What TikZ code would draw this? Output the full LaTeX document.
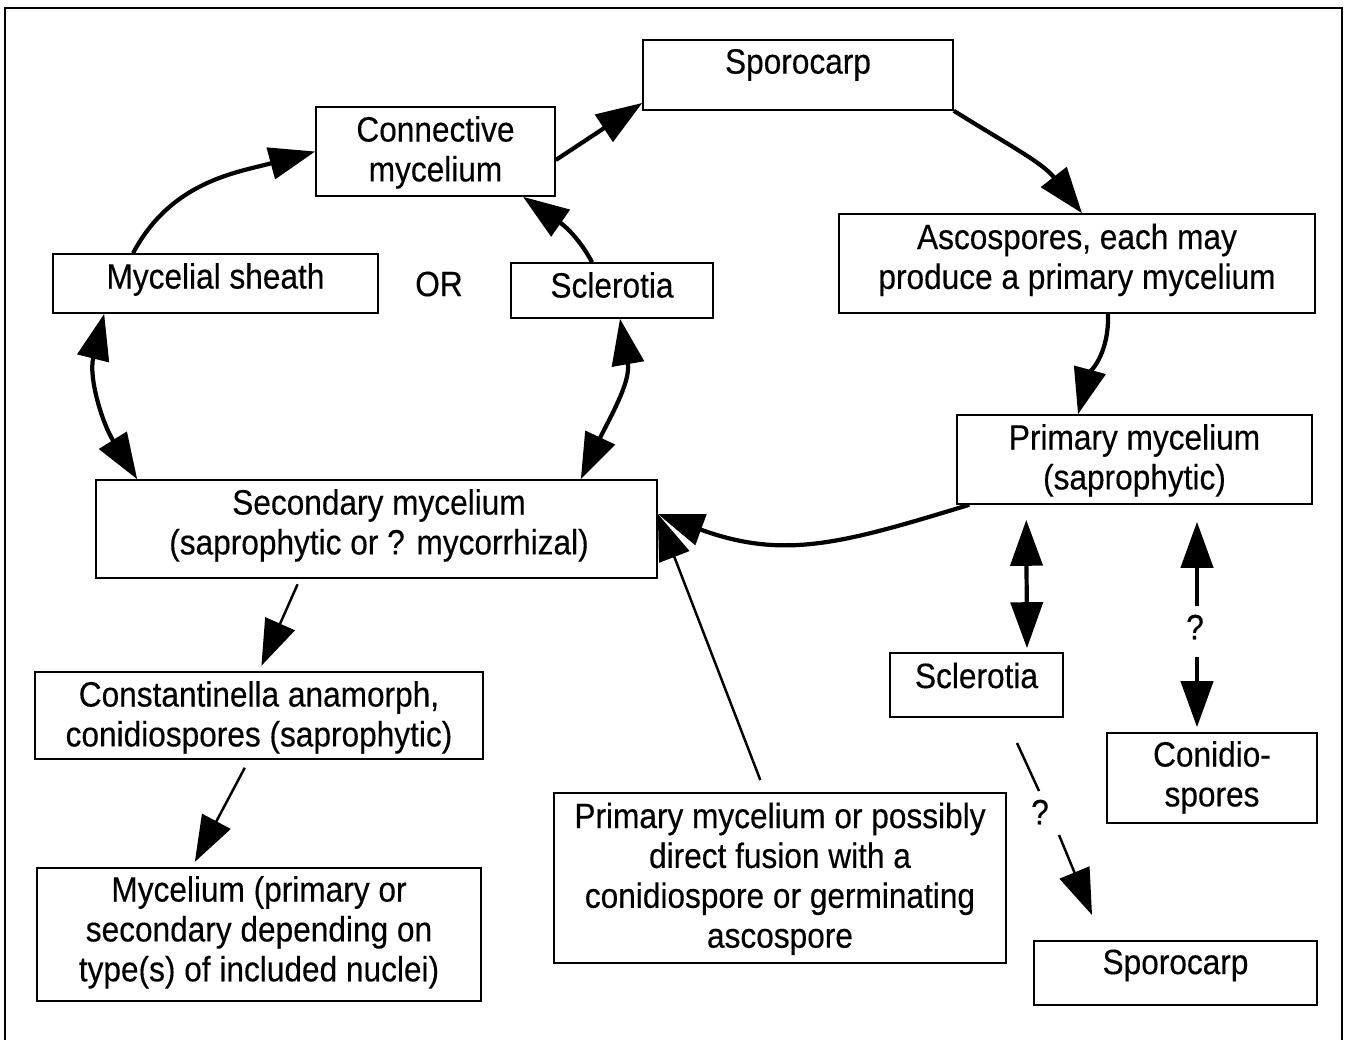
\documentclass[tikz,border=0pt]{standalone}
\usepackage{fontspec}
\setmainfont{Liberation Sans}[FakeStretch=0.9,FakeBold=0.3]
\usetikzlibrary{arrows.meta,fit}
\begin{document}
\begin{tikzpicture}[x=0.02cm,y=0.02cm,
  box/.style={draw,line width=0.9pt,inner sep=0pt},
  txt/.style={align=center,inner sep=0pt,anchor=north,font=\fontsize{20}{22.7}\selectfont},
  thk/.style={line width=2.4pt},
  thn/.style={line width=1.4pt},
  ar/.style={-{Triangle[length=0.92cm,width=0.64cm]}},
  dar/.style={{Triangle[length=0.92cm,width=0.64cm]}-{Triangle[length=0.92cm,width=0.64cm]}}]
\useasboundingbox (0,0) rectangle (1345,-1040);
% frame
\draw[line width=1.2pt] (5,-1040) -- (5,-8) -- (1342,-8) -- (1342,-1040);

% boxes
\node[box,fit={(643,-40) (953,-110)}] (spoA) {};
\node[box,fit={(316,-107) (555,-196)}] (con) {};
\node[box,fit={(53,-254) (378,-313)}] (sheath) {};
\node[box,fit={(511,-263) (713,-318)}] (sclA) {};
\node[box,fit={(839,-214) (1315,-313)}] (asc) {};
\node[box,fit={(957,-415) (1312,-504)}] (pri) {};
\node[box,fit={(96,-480) (657,-578)}] (sec) {};
\node[box,fit={(35,-672) (483,-759)}] (cst) {};
\node[box,fit={(37,-868) (481,-1001)}] (myc) {};
\node[box,fit={(554,-793) (1006,-963)}] (fus) {};
\node[box,fit={(890,-653) (1063,-717)}] (sclB) {};
\node[box,fit={(1107,-733) (1317,-823)}] (cnd) {};
\node[box,fit={(1034,-941) (1317,-1005)}] (spoB) {};

% texts
\node[txt] (spoAt) at ([yshift=-0.19cm]spoA.north) {Sporocarp};
\node[txt] (cont) at ([yshift=-0.19cm]con.north) {Connective\\mycelium};
\node[txt] (sheatht) at ([yshift=-0.19cm]sheath.north) {Mycelial sheath};
\node[txt] (sclAt) at ([yshift=-0.19cm]sclA.north) {Sclerotia};
\node[txt] (asct) at ([yshift=-0.2cm]asc.north) {Ascospores, each may\\produce a primary mycelium};
\node[txt] (prit) at ([yshift=-0.19cm]pri.north) {Primary mycelium\\(saprophytic)};
\node[txt] (sect) at ([xshift=0.05cm,yshift=-0.19cm]sec.north) {Secondary mycelium\\(saprophytic or ? mycorrhizal)};
\node[txt] (cstt) at ([yshift=-0.19cm]cst.north) {Constantinella anamorph,\\conidiospores (saprophytic)};
\node[txt] (myct) at ([yshift=-0.17cm]myc.north) {Mycelium (primary or\\secondary depending on\\type(s) of included nuclei)};
\node[txt] (fust) at ([yshift=-0.2cm]fus.north) {Primary mycelium or possibly\\direct fusion with a\\conidiospore or germinating\\ascospore};
\node[txt] (sclBt) at ([yshift=-0.2cm]sclB.north) {Sclerotia};
\node[txt] (cndt) at ([yshift=-0.17cm]cnd.north) {Conidio-\\spores};
\node[txt] (spoBt) at ([yshift=-0.18cm]spoB.north) {Sporocarp};
\node[txt,anchor=center] (or) at (439,-284) {OR};
\node[txt,anchor=center] (q1) at (1195,-627) {?};
\node[txt,anchor=center] (q2) at (1040,-812) {?};

% main cycle
\draw[thk,ar] ([xshift=-1.65cm]sheath.north) to[out=62,in=195] (con.west);
\draw[thk,ar] ([yshift=-0.17cm]con.east) -- ([yshift=-0.56cm]spoA.west);
\draw[thk,ar] (spoA.south east) to[out=-32,in=128] ([xshift=0.1cm]asc.north);
\draw[thk,ar] ([xshift=0.62cm]asc.south) to[out=-88,in=75] ([xshift=-1.13cm]pri.north);
\draw[thk,ar] ([xshift=0.26cm]pri.south west) to[out=197,in=-20,looseness=1.1] ([yshift=0.3cm]sec.east);
\draw[thk,ar] ([xshift=-0.4cm]sclA.north) to[out=118,in=-35] ([xshift=1.75cm]con.south);
\draw[thk,dar] ([xshift=1.04cm]sheath.south west) to[out=-104,in=122] ([xshift=0.84cm]sec.north west);
\draw[thk,dar] ([xshift=0.16cm]sclA.south) to[out=-80,in=65] ([xshift=-1.54cm]sec.north east);

% straight arrows
\draw[thn,ar,shorten <=0.12cm,shorten >=0.12cm] ([xshift=-1.53cm]sec.south) -- (cst.north);
\draw[thn,ar,shorten <=0.18cm,shorten >=0.12cm] ([xshift=-0.2cm]cst.south) -- ([xshift=-1.34cm]myc.north);
\draw[thn,ar,shorten <=0.26cm] ([xshift=-0.3cm]fus.north) -- ([yshift=0.3cm]sec.east);
\draw[thk,dar,shorten <=0.3cm,shorten >=0.08cm] ([xshift=1.4cm]pri.south west) -- ([xshift=1.01cm]sclB.north);

% primary <-> conidiospores with ?
\coordinate (q1a) at (1197,-606);
\coordinate (q1b) at (1197,-657);
\draw[thk,ar,shorten >=0.34cm] (q1a) -- (q1a |- pri.south);
\draw[thk,ar,shorten >=0.1cm] (q1b) -- (q1b |- cnd.north);

% sclerotia -> sporocarp with ?
\coordinate (q2a) at (1017,-743);
\coordinate (q2b) at (1039,-791);
\coordinate (q2c) at (1059,-835);
\coordinate (q2d) at (1092,-915);
\draw[thn] (q2a) -- (q2b);
\draw[thn,ar] (q2c) -- (q2d);
\end{tikzpicture}
\end{document}
